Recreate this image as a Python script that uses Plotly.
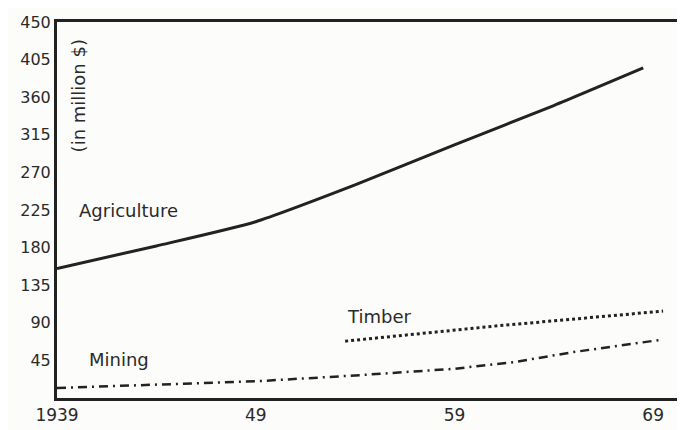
import plotly.graph_objects as go

# values (million $)
agri_years = [1939, 1944, 1949, 1954, 1959, 1964, 1968.5]
agri_values = [155, 182, 211, 255, 303, 350, 395]

timber_years = [1953.5, 1961, 1969.5]
timber_values = [68, 86, 104]

mining_years = [1939, 1944, 1949, 1954, 1959, 1962, 1965, 1969.5]
mining_values = [12, 16, 20, 27, 35, 43, 55, 70]

y_ticks = [45, 90, 135, 180, 225, 270, 315, 360, 405, 450]
x_ticks = [1939, 1949, 1959, 1969]
x_labels = ["1939", "49", "59", "69"]

ink = "#222222"
font = "DejaVu Sans, sans-serif"
txt = "#2a2a2a"

fig = go.Figure()
fig.add_trace(go.Scatter(x=agri_years, y=agri_values, mode="lines", line_shape="spline",
                         line=dict(color=ink, width=3, smoothing=0.6), name="Agriculture"))
fig.add_trace(go.Scatter(x=timber_years, y=timber_values, mode="lines",
                         line=dict(color=ink, width=3, dash="dot"), name="Timber"))
fig.add_trace(go.Scatter(x=mining_years, y=mining_values, mode="lines",
                         line=dict(color=ink, width=2.5, dash="9px,5px,2px,5px"), name="Mining"))

labels = [("Agriculture", 1940, 225), ("Timber", 1953.5, 98), ("Mining", 1940.5, 46)]
for text, x, y in labels:
    fig.add_annotation(x=x, y=y, text=text, showarrow=False, xanchor="left",
                       font=dict(size=18, color=txt, family=font))

fig.add_annotation(x=1940.1, y=362, text="(in million $)", showarrow=False, textangle=-90,
                   font=dict(size=18, color=txt, family=font))

fig.update_xaxes(range=[1939, 1970.2], tickvals=x_ticks, ticktext=x_labels,
                 showgrid=False, zeroline=False, showline=True, linecolor=ink,
                 linewidth=3, mirror=True, ticks="", tickfont=dict(size=17, color=txt, family=font))
fig.update_yaxes(range=[0, 450], tickvals=y_ticks, showgrid=False, zeroline=False,
                 showline=True, linecolor=ink, linewidth=3, mirror=True, ticks="",
                 tickfont=dict(size=16, color=txt, family=font))

# page body adds an 8px margin, so the figure is sized to end at the window edge
fig.update_layout(width=677, height=422, showlegend=False,
                  margin=dict(l=49, r=5, t=10, b=27),
                  plot_bgcolor="#fcfcfa", paper_bgcolor="#fcfcfa")

fig.write_html("out.html")
